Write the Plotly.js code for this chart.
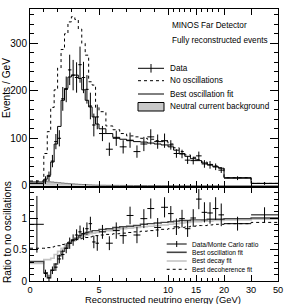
<!DOCTYPE html>
<html><head><meta charset="utf-8">
<script src="https://cdn.plot.ly/plotly-3.0.1.min.js"></script>
<style>html,body{margin:0;padding:0;background:#fff;}#chart{width:293px;height:304px;}</style>
</head><body><div id="chart"></div>
<script>
// ---- data (energies in GeV) ----
const binEdges = [0,1,1.25,1.5,1.75,2,2.25,2.5,2.75,3,3.25,3.5,3.75,4,4.25,4.5,4.75,5,5.5,6,6.5,7,7.5,8,8.5,9,9.5,10,11,12,13,14,15,16,17,18,19,20,30,50];
const dataTop = [8,12,20,52,93,100,183,203,244,233,228,255,228,203,168,128,145,110,77,100,82,96,72,88,103,93,95,86,68,67,54,53,63,46,44,40,33,16,5];
const dataTopErr = [4,8,10,13,16,17,25,27,32,32,32,38,33,30,28,24,26,16,14,16,14,16,13,15,16,15,15,10,9,9,8,8,9,8,8,7,6,4,3];
const noOsc = [10,68,114,165,202,248,287,320,345,356,350,330,300,275,219,212,165,156,126,118,110,105,103,100,98,95,93,88,80,72,65,60,55,50,45,42,38,17,5];
const bestFit = [5,14,22,50,88,125,180,205,229,233,233,226,202,180,166,145,130,120,110,102,98,95,93,92,90,88,86,82,75,68,62,57,53,48,44,40,37,17,5];
const ncBkg = [5,9,8.5,8,7.2,6.5,5.8,5.1,4.5,4,3.5,3,2.6,2.2,1.9,1.6,1.4,1.2,1,0.9,0.8,0.7,0.6,0.55,0.5,0.45,0.4,0.35,0.3,0.3,0.25,0.25,0.2,0.2,0.2,0.15,0.15,0.1,0.05];
const ratioData = [0.90,0.12,0.05,0.17,0.22,0.35,0.42,0.52,0.60,0.65,0.73,0.78,0.75,0.83,0.91,0.62,0.60,0.78,0.60,0.80,0.72,1.04,0.73,0.99,1.15,0.85,1.17,1.07,0.86,0.99,0.83,1.00,1.30,1.09,1.08,1.15,1.05,0.91,1.05];
const ratioErr = [0.45,0.06,0.05,0.06,0.06,0.07,0.08,0.08,0.09,0.09,0.09,0.10,0.10,0.10,0.11,0.10,0.12,0.11,0.11,0.13,0.13,0.14,0.13,0.15,0.16,0.15,0.16,0.12,0.13,0.14,0.13,0.14,0.16,0.16,0.17,0.18,0.18,0.11,0.12];
const ratioOsc = [0.31,0.13,0.05,0.17,0.27,0.40,0.47,0.52,0.60,0.65,0.68,0.72,0.75,0.77,0.78,0.80,0.80,0.82,0.83,0.85,0.86,0.87,0.88,0.90,0.91,0.92,0.93,0.94,0.95,0.96,0.96,0.97,0.97,0.97,0.98,0.98,0.98,0.99,1.00];
const ratioDecay = [0.28,0.34,0.34,0.36,0.42,0.47,0.52,0.56,0.60,0.63,0.66,0.69,0.71,0.73,0.75,0.76,0.77,0.79,0.80,0.82,0.83,0.84,0.85,0.86,0.87,0.88,0.89,0.90,0.91,0.92,0.93,0.94,0.94,0.95,0.95,0.96,0.96,0.97,0.98];
const ratioDecoh = [0.52,0.52,0.53,0.54,0.55,0.56,0.58,0.60,0.62,0.64,0.66,0.67,0.68,0.69,0.70,0.71,0.72,0.73,0.74,0.75,0.76,0.77,0.78,0.79,0.80,0.81,0.82,0.83,0.84,0.85,0.86,0.87,0.88,0.88,0.89,0.90,0.90,0.91,0.93];
const xTickValues = [0,5,10,15,20,30,50];
const xTickLabels = ['0','5','10','15','20','30','50'];
const xMinorValues = [1,2,3,4,6,7,8,9,11,12,13,14,16,17,18,19];

// ---- piecewise energy axis (0-10, 10-20, 20-30, 30-50 GeV segments) ----
const axisKnotsE = [0,10,20,30,50];
const axisKnotsU = [0,10,14.06,16.02,17.97];
function toAxis(e){
  for(let i=0;i<axisKnotsE.length-1;i++){
    if(e<=axisKnotsE[i+1]||i===axisKnotsE.length-2){
      const t=(e-axisKnotsE[i])/(axisKnotsE[i+1]-axisKnotsE[i]);
      return axisKnotsU[i]+t*(axisKnotsU[i+1]-axisKnotsU[i]);
    }
  }
}
const nb = binEdges.length-1;
const centers=[], hwPlus=[], hwMinus=[];
for(let i=0;i<nb;i++){
  const c=(binEdges[i]+binEdges[i+1])/2;
  const u=toAxis(c);
  centers.push(u);
  hwPlus.push(toAxis(binEdges[i+1])-u);
  hwMinus.push(u-toAxis(binEdges[i]));
}
const edgesU = binEdges.map(toAxis);
const stepY = v => v.concat([v[v.length-1]]);

function stepTrace(vals, xa, ya, color, width, dash, extra){
  return Object.assign({type:'scatter',mode:'lines',x:edgesU,y:stepY(vals),xaxis:xa,yaxis:ya,
    line:{shape:'hv',color:color,width:width,dash:dash},hoverinfo:'skip'}, extra||{});
}
function errTrace(vals, errs, xa, ya){
  return {type:'scatter',mode:'markers',x:centers,y:vals,xaxis:xa,yaxis:ya,
    marker:{size:1,color:'black'},
    error_y:{type:'data',array:errs,visible:true,width:0,thickness:1,color:'black'},
    error_x:{type:'data',symmetric:false,array:hwPlus,arrayminus:hwMinus,visible:true,width:0,thickness:1,color:'black'}};
}

const traces = [
  stepTrace(ncBkg,'x','y','#777',1,'solid',{fill:'tozeroy',fillcolor:'#c8c8c8'}),
  stepTrace(noOsc,'x','y','black',1,'dot'),
  stepTrace(bestFit,'x','y','black',1,'solid'),
  errTrace(dataTop,dataTopErr,'x','y'),
  stepTrace(ratioDecay,'x2','y2','#c4c4c4',1.6,'solid'),
  stepTrace(ratioOsc,'x2','y2','#444',1.4,'solid'),
  stepTrace(ratioDecoh,'x2','y2','black',1,'dot'),
  errTrace(ratioData,ratioErr,'x2','y2')
];

const FONT='Liberation Sans, Arial, Helvetica, sans-serif';
const L=30, R=278, T=9, B=281;
const px = x => (x-L)/(R-L);
const py = y => (B-y)/(B-T);
const splitY = py(186.5);

function xAxisCfg(labels, anchor){
  return {domain:[0,1],anchor:anchor,range:[0,toAxis(50)],tickmode:'array',
    tickvals:xTickValues.map(toAxis),ticktext:xTickLabels,showticklabels:labels,
    ticks:'inside',ticklen:6,tickwidth:1,tickcolor:'black',showline:true,linecolor:'black',linewidth:1,
    mirror:'ticks',showgrid:false,zeroline:false,tickfont:{family:FONT,size:9.2,color:'black'},
    minor:{tickmode:'array',tickvals:xMinorValues.map(toAxis),ticks:'inside',ticklen:3,tickcolor:'black',showgrid:false}};
}

const annotations=[
  {text:'Events / GeV',x:px(7),y:py(88),textangle:-90},
  {text:'Ratio to no oscillations',x:px(7),y:py(232),textangle:-90},
  {text:'Reconstructed neutrino energy (GeV)',x:px(163),y:py(299.2),font:{family:FONT,size:9.4,color:'black'}},
].map(a=>Object.assign({xref:'paper',yref:'paper',showarrow:false,xanchor:'center',yanchor:'middle',
  font:{family:FONT,size:10.2,color:'black'}},a));

const upTexts=[['MINOS Far Detector',25],['Fully reconstructed events',40],['Data',68.3],['No oscillations',80.7],['Best oscillation fit',94],['Neutral current background',106.7]];
upTexts.forEach(([t,y])=>annotations.push({text:t,x:px(y<50?170:168),y:py(y),xref:'paper',yref:'paper',showarrow:false,
  xanchor:'left',yanchor:'middle',font:{family:FONT,size:8.2,color:'black'}}));
const loTexts=[['Data/Monte Carlo ratio',244],['Best oscillation fit',252.3],['Best decay fit',261],['Best decoherence fit',269.3]];
loTexts.forEach(([t,y])=>annotations.push({text:t,x:px(190),y:py(y),xref:'paper',yref:'paper',showarrow:false,
  xanchor:'left',yanchor:'middle',font:{family:FONT,size:6.6,color:'black'}}));

const ln=(x0,x1,y0,y1,color,width,dash)=>({type:'line',xref:'paper',yref:'paper',x0:px(x0),x1:px(x1),y0:py(y0),y1:py(y1),
  line:{color:color,width:width,dash:dash||'solid'}});
const shapes=[
  ln(138,164,68.3,68.3,'black',1), ln(151,151,64,72.6,'black',1),
  ln(138,164,80.7,80.7,'black',1,'dot'),
  ln(138,164,94,94,'black',1),
  {type:'rect',xref:'paper',yref:'paper',x0:px(138),x1:px(164),y0:py(102.5),y1:py(111),fillcolor:'#c8c8c8',line:{color:'black',width:1}},
  ln(166.7,186.7,244,244,'black',1), ln(176.7,176.7,241,247,'black',1),
  ln(166.7,186.7,252.3,252.3,'#444',1.6),
  ln(166.7,186.7,261,261,'#c4c4c4',1.6),
  ln(166.7,186.7,269.3,269.3,'black',1,'dot')
];

const layout={
  width:293,height:304,margin:{l:L,r:293-R,t:T,b:304-B,pad:0},
  paper_bgcolor:'white',plot_bgcolor:'white',showlegend:false,
  font:{family:FONT,size:10,color:'black'},
  xaxis:xAxisCfg(false,'y'),
  xaxis2:xAxisCfg(true,'y2'),
  yaxis:{domain:[splitY,1],anchor:'x',range:[-1.5,372.2],tickmode:'array',tickvals:[0,100,200,300],ticktext:['0','100','200','300'],
    ticks:'inside',ticklen:8,tickwidth:1,tickcolor:'black',showline:true,linecolor:'black',linewidth:1,mirror:'ticks',
    showgrid:false,zeroline:false,tickfont:{family:FONT,size:10,color:'black'},
    minor:{dtick:20,tick0:0,ticks:'inside',ticklen:4,tickcolor:'black',showgrid:false}},
  yaxis2:{domain:[0,splitY],anchor:'x2',range:[0,1.5],tickmode:'array',tickvals:[0,0.5,1],ticktext:['0','0.5','1'],
    ticks:'inside',ticklen:8,tickwidth:1,tickcolor:'black',showline:true,linecolor:'black',linewidth:1,mirror:'ticks',
    showgrid:false,zeroline:false,tickfont:{family:FONT,size:10,color:'black'},
    minor:{dtick:0.1,tick0:0,ticks:'inside',ticklen:4,tickcolor:'black',showgrid:false}},
  annotations:annotations,shapes:shapes
};
Plotly.newPlot('chart',traces,layout,{staticPlot:true,displayModeBar:false});
</script></body></html>
